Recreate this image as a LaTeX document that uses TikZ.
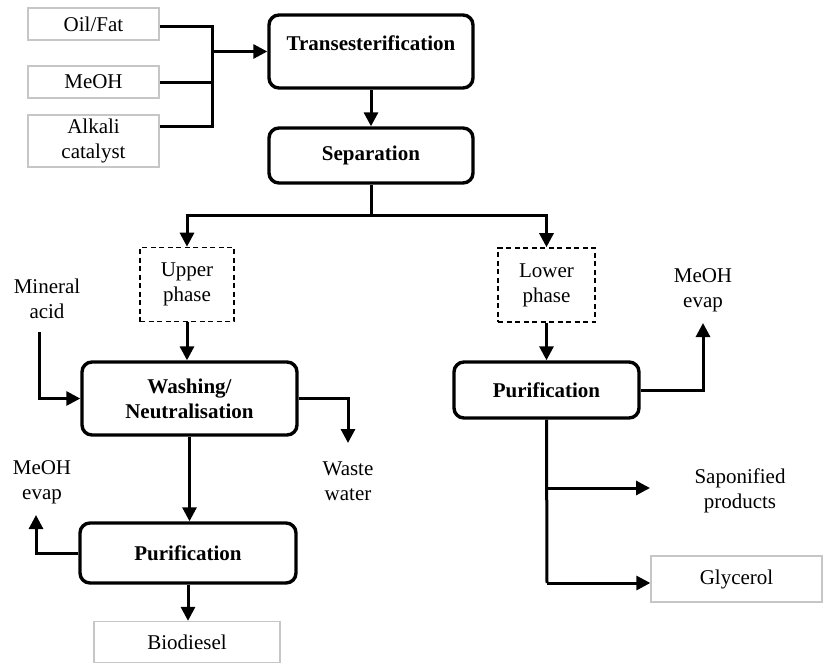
\documentclass[tikz,border=0pt]{standalone}
\usepackage{fontspec}
\setmainfont{Liberation Serif}
\usetikzlibrary{arrows.meta}

\tikzset{
  txt/.style={font=\fontsize{21}{25}\selectfont, align=center, inner sep=0pt},
  procbox/.style={txt, draw, line width=3.4pt, rounded corners=10pt, font=\fontsize{21}{25}\selectfont\bfseries},
  feedbox/.style={txt, draw=gray!45, line width=1.3pt},
  phasebox/.style={txt, draw, line width=1.6pt, dash pattern=on 5pt off 3.5pt},
  pipe/.style={line width=3pt},
  flow/.style={pipe, -{Triangle[length=14pt,width=14pt]}},
}

\begin{document}
\begin{tikzpicture}[x=1pt, y=-1pt]
  \useasboundingbox (0,0) rectangle (823,664);

  % feed stocks
  \node[feedbox, minimum width=131pt, minimum height=32pt] (oil) at (93.5,24) {Oil/Fat};
  \node[feedbox, minimum width=131pt, minimum height=32pt] (meoh) at (93.5,82) {MeOH};
  \node[feedbox, minimum width=131pt, minimum height=52pt] (alk) at (93.5,141) {Alkali\\catalyst};

  % main process steps
  \node[procbox, minimum width=204pt, minimum height=73pt, text height=15pt, text depth=18pt] (trans) at (371,51.5) {Transesterification};
  \node[procbox, minimum width=204pt, minimum height=55pt] (sep) at (371,155.5) {Separation};

  \node[phasebox, minimum width=94pt, minimum height=74pt] (upper) at (187,284.5) {Upper\\phase};
  \node[phasebox, minimum width=97pt, minimum height=74pt] (lower) at (546.5,285) {Lower\\phase};

  \node[procbox, minimum width=215pt, minimum height=73pt] (wash) at (189.5,398.5) {Washing/\\Neutralisation};
  \node[procbox, minimum width=216pt, minimum height=60pt] (pur1) at (188,553) {Purification};
  \node[procbox, minimum width=185pt, minimum height=56pt] (pur2) at (546.5,390) {Purification};

  % products
  \node[feedbox, minimum width=186pt, minimum height=41pt] (bio) at (187,642) {Biodiesel};
  \node[feedbox, minimum width=171pt, minimum height=46pt] (gly) at (736.5,579) {Glycerol};

  % free labels
  \node[txt] (acid) at (47,299) {Mineral\\acid};
  \node[txt] (waste) at (348,481) {Waste\\water};
  \node[txt] (evap1) at (42,482) {MeOH\\evap};
  \node[txt] (evap2) at (703,290) {MeOH\\evap};
  \node[txt] (sapo) at (740,491) {Saponified\\products};

  % junctions and free ends
  \coordinate (jtop) at (212,26);
  \coordinate (jbot) at (212,126);
  \coordinate (jin) at (212,51.5);
  \coordinate (split) at (371,215);
  \coordinate (acidin) at (39,332);
  \coordinate (wasteout) at (348,443);
  \coordinate (evap1out) at (36,515);
  \coordinate (evap2out) at (703,323);
  \coordinate (sapoout) at (650,488);
  \coordinate (glyj) at (547,583);

  % feed manifold
  \draw[pipe] (jtop -| oil.east) -- (jtop) -- (jbot) -- (jbot -| alk.east);
  \draw[pipe] (meoh.east) -- (meoh.east -| jtop);
  \draw[flow] (jin) -- (trans.west);

  % main line
  \draw[flow] (trans.south) -- (sep.north);
  \draw[pipe] (sep.south) -- (split);
  \draw[flow] (split) -| (upper.north);
  \draw[flow] (split) -| (lower.north);

  % biodiesel branch
  \draw[flow] (upper.south) -- (upper.south |- wash.north);
  \draw[flow] (acidin) |- (wash.west);
  \draw[flow] (wash.east) -| (wasteout);
  \draw[flow] (wash.south) -- (wash.south |- pur1.north);
  \draw[flow] (pur1.west) -| (evap1out);
  \draw[flow] (pur1.south) -- (pur1.south |- bio.north);

  % glycerol branch
  \draw[flow] (lower.south) -- (pur2.north);
  \draw[flow] (pur2.east) -| (evap2out);
  \draw[pipe] (pur2.south) -- (glyj);
  \draw[flow] (pur2.south |- sapoout) -- (sapoout);
  \draw[flow] (glyj) -- (glyj -| gly.west);
\end{tikzpicture}
\end{document}
